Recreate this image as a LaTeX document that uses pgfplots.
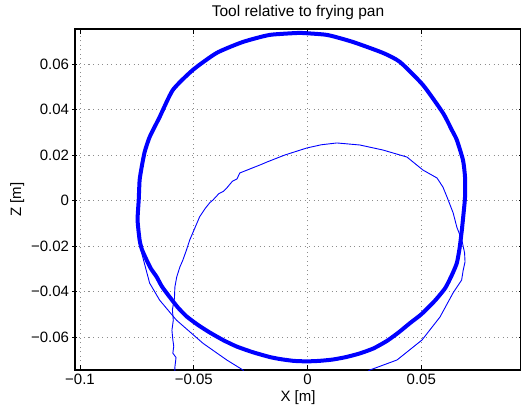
\documentclass[border=0pt]{standalone}
\usepackage{fontspec}
\setmainfont{Liberation Sans}
\usepackage{pgfplots}
\pgfplotsset{compat=1.18}

% main loop, traced many times (drawn as one thick band)
\pgfplotstableread{
x y
-0.0034 0.0737
0.0085 0.0728
0.0199 0.0697
0.0331 0.0649
0.0406 0.0609
0.0507 0.0508
0.0595 0.0385
0.0634 0.0310
0.0656 0.0266
0.0683 0.0178
0.0692 0.0103
0.0692 0.0015
0.0687 -0.0042
0.0678 -0.0130
0.0668 -0.0210
0.0656 -0.0275
0.0634 -0.0328
0.0605 -0.0385
0.0560 -0.0440
0.0500 -0.0500
0.0450 -0.0539
0.0400 -0.0580
0.0349 -0.0617
0.0290 -0.0650
0.0230 -0.0672
0.0170 -0.0688
0.0111 -0.0699
0.0050 -0.0705
-0.0003 -0.0707
-0.0060 -0.0705
-0.0120 -0.0697
-0.0166 -0.0688
-0.0240 -0.0667
-0.0311 -0.0642
-0.0370 -0.0614
-0.0430 -0.0580
-0.0480 -0.0548
-0.0531 -0.0510
-0.0570 -0.0470
-0.0606 -0.0424
-0.0640 -0.0378
-0.0663 -0.0336
-0.0688 -0.0300
-0.0707 -0.0262
-0.0728 -0.0215
-0.0738 -0.0174
-0.0747 -0.0086
-0.0742 0.0002
-0.0738 0.0090
-0.0729 0.0147
-0.0716 0.0213
-0.0694 0.0279
-0.0650 0.0367
-0.0592 0.0486
-0.0504 0.0574
-0.0399 0.0649
-0.0284 0.0697
-0.0166 0.0728
-0.0034 0.0737
}\loopdata

% single passes entering and leaving the loop
\pgfplotstableread{
x y
-0.0583 -0.0811
-0.0583 -0.0732
-0.0578 -0.0690
-0.0592 -0.0671
-0.0588 -0.0640
-0.0592 -0.0613
-0.0596 -0.0570
-0.0590 -0.0526
-0.0594 -0.0480
-0.0585 -0.0430
-0.0583 -0.0380
-0.0575 -0.0336
-0.0561 -0.0292
-0.0548 -0.0262
-0.0533 -0.0220
-0.0518 -0.0174
-0.0497 -0.0125
-0.0474 -0.0071
-0.0450 -0.0035
-0.0430 -0.0010
-0.0416 0.0002
-0.0390 0.0030
-0.0370 0.0040
-0.0355 0.0055
-0.0330 0.0085
-0.0310 0.0095
-0.0298 0.0121
-0.0250 0.0140
-0.0200 0.0160
-0.0179 0.0169
-0.0100 0.0200
-0.0003 0.0231
0.0060 0.0245
0.0129 0.0253
0.0230 0.0244
0.0331 0.0222
0.0437 0.0191
0.0507 0.0134
0.0569 0.0099
0.0595 0.0059
0.0613 0.0015
0.0640 -0.0055
0.0656 -0.0117
0.0678 -0.0174
0.0690 -0.0230
0.0692 -0.0270
0.0684 -0.0306
0.0677 -0.0350
0.0639 -0.0407
0.0582 -0.0512
0.0503 -0.0613
0.0393 -0.0701
0.0274 -0.0745
0.0186 -0.0811
}\innerpass

\pgfplotstableread{
x y
-0.0254 -0.0811
-0.0284 -0.0745
-0.0355 -0.0701
-0.0459 -0.0628
-0.0576 -0.0526
-0.0650 -0.0438
-0.0694 -0.0363
-0.0729 -0.0231
-0.0738 -0.0174
}\outerpass

\begin{document}
\begin{tikzpicture}
\begin{axis}[
  scale only axis,
  width=446pt, height=341pt,
  xmin=-0.1022, xmax=0.0938,
  ymin=-0.0745, ymax=0.0754,
  scaled ticks=false,
  xtick={-0.1,-0.05,0,0.05},
  xticklabels={−0.1,−0.05,0,0.05},
  ytick={-0.06,-0.04,-0.02,0,0.02,0.04,0.06},
  yticklabels={−0.06,−0.04,−0.02,0,0.02,0.04,0.06},
  tick align=inside,
  ytick align=center,
  major tick length=5pt,
  tick style={black, line width=0.6pt},
  axis line style={line width=1.3pt},
  grid=major,
  grid style={black!45, line width=0.6pt, dash pattern=on 1pt off 3.5pt},
  ticklabel style={font=\fontsize{15}{18}\selectfont},
  label style={font=\fontsize{15}{18}\selectfont},
  title style={font=\fontsize{15.5}{18}\selectfont},
  title={Tool relative to frying pan},
  xlabel={X [m]},
  ylabel={Z [m]},
]
\addplot[blue, line width=4pt, line join=round, smooth, tension=0.35] table {\loopdata};
\addplot[blue, line width=0.9pt] table {\innerpass};
\addplot[blue, line width=0.9pt] table {\outerpass};
\end{axis}
\pgfresetboundingbox
\useasboundingbox (-75pt,-44.5pt) rectangle (446pt,370pt);
\end{tikzpicture}
\end{document}
